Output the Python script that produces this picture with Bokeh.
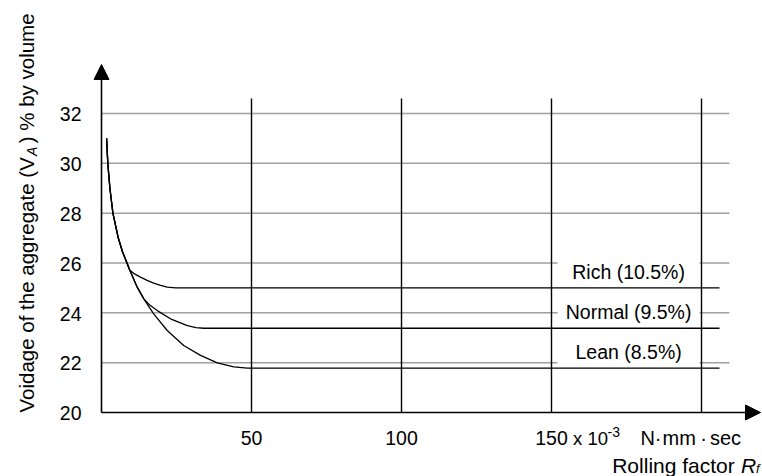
import math
from bokeh.plotting import figure
from bokeh.models import Arrow, NormalHead, Label
from bokeh.core.properties import value
from bokeh.embed import file_html
from bokeh.resources import INLINE

# ---------------- data ----------------
y_ticks = [20, 22, 24, 26, 28, 30, 32]
y_tick_labels = ["20", "22", "24", "26", "28", "30", "32"]
x_ticks = [50, 100, 150]
x_tick_labels = ["50", "100", "150"]
grid_y = [22, 24, 26, 28, 30, 32]
grid_x = [50, 100, 150, 200]
grid_x_top = 32.6
grid_y_end = 209.3

curve_names = ["Rich (10.5%)", "Normal (9.5%)", "Lean (8.5%)"]
curve_levels = [25.0, 23.38, 21.78]

common_x = [1.7, 2.1, 2.8, 3.8, 5.6, 7.0, 8.5, 9.4]
common_y = [31.0, 30.0, 29.0, 28.0, 27.0, 26.45, 26.0, 25.72]

rich_x = common_x + [11.0, 13.0, 15.2, 17.4, 19.7, 21.9, 24.7, 206.0]
rich_y = common_y + [25.56, 25.43, 25.30, 25.19, 25.10, 25.03, 25.0, 25.0]

normal_x = common_x + [11.9, 14.1, 16.2, 18.6, 23.0, 28.6, 31.5, 34.1, 206.0]
normal_y = common_y + [25.03, 24.56, 24.30, 24.09, 23.76, 23.49, 23.41, 23.38, 23.38]

lean_x = common_x + [11.9, 14.1, 17.4, 21.9, 27.4, 33.0, 38.6, 44.1, 48.6, 206.0]
lean_y = common_y + [25.03, 24.56, 23.96, 23.29, 22.69, 22.29, 21.99, 21.83, 21.78, 21.78]

label_x = 175.7

# ---------------- layout helpers ----------------
W, H = 762, 476
X0_PX, Y20_PX = 101.0, 412.0
PX_PER_X = 3.0
PX_PER_Y = 24.92
FONT = "Liberation Sans"


def dx(px):
    return (px - X0_PX) / PX_PER_X


def dy(py):
    return 20 + (Y20_PX - py) / PX_PER_Y


# Arial / Liberation Sans advance widths (per 1000 em)
AW = {" ": 278, "V": 667, "o": 556, "i": 222, "d": 556, "a": 556, "g": 556, "e": 556,
      "f": 278, "t": 278, "h": 556, "r": 333, "(": 333, ")": 333, "%": 889, "b": 556,
      "y": 500, "v": 500, "l": 222, "u": 556, "m": 833, "A": 667}


def tw(s, size):
    return sum(AW.get(c, 556) for c in s) * size / 1000.0


p = figure(width=W, height=H, x_range=(dx(0), dx(W)), y_range=(dy(H), dy(0)),
           output_backend="svg", toolbar_location=None, title=None,
           x_axis_location=None, y_axis_location=None, min_border=0)
p.outline_line_color = None
p.background_fill_color = "white"
p.border_fill_color = "white"
p.xgrid.visible = False
p.ygrid.visible = False

# horizontal grey grid lines
p.segment(x0=[0] * len(grid_y), y0=grid_y, x1=[grid_y_end] * len(grid_y), y1=grid_y,
          line_color="#a0a0a0", line_width=1.5)

# white boxes behind curve labels
LABEL_RISE = 15.9 / PX_PER_Y
box_y = [lv + LABEL_RISE for lv in curve_levels]
p.rect(x=[label_x] * len(curve_names), y=box_y, width=142, height=24,
       width_units="screen", height_units="screen", fill_color="white", line_color=None)

# vertical lines
p.segment(x0=grid_x, y0=[20] * len(grid_x), x1=grid_x, y1=[grid_x_top] * len(grid_x),
          line_color="black", line_width=1.4)

# curves
for cx, cy in [(rich_x, rich_y), (normal_x, normal_y), (lean_x, lean_y)]:
    p.line(cx, cy, line_color="black", line_width=1.3)

# curve labels (y gives the visual centre of the capitals)
p.text(x=[label_x] * len(curve_names), y=box_y,
       text=curve_names, text_font=value(FONT), text_font_size=value("19.5px"),
       text_align="center", text_baseline="alphabetic", text_color="black")

# axes arrows
p.add_layout(Arrow(end=NormalHead(size=15, fill_color="black", line_color="black"),
                   x_start=0, y_start=20, x_end=dx(760), y_end=20,
                   line_color="black", line_width=1.6))
p.add_layout(Arrow(end=NormalHead(size=15, fill_color="black", line_color="black"),
                   x_start=0, y_start=20, x_end=0, y_end=dy(64),
                   line_color="black", line_width=1.6))

# tick labels
p.text(x=[dx(81)] * len(y_ticks), y=[t - 0.7 / PX_PER_Y for t in y_ticks], text=y_tick_labels,
       text_font=value(FONT), text_font_size=value("19.5px"),
       text_align="right", text_baseline="alphabetic", text_color="black")
p.text(x=x_ticks, y=[dy(437.5)] * len(x_ticks), text=x_tick_labels,
       text_font=value(FONT), text_font_size=value("19.5px"),
       text_align="center", text_baseline="alphabetic", text_color="black")


def lab(px, py, text, size, align="left", style="normal", angle=0.0):
    p.add_layout(Label(x=dx(px), y=dy(py), text=text, text_font=FONT,
                       text_font_size=f"{size}px", text_align=align,
                       text_baseline="alphabetic", text_font_style=style,
                       text_color="black", angle=angle))


# unit after 150
lab(572.5, 437.5, "x 10", 18.5)
lab(607, 431, "-3", 14)
lab(640, 437.5, "N", 20)
lab(657.5, 437.5, "\u00b7", 20, align="center")
lab(662, 437.5, "mm", 20)
lab(703, 437.5, "\u00b7", 20, align="center")
lab(709.5, 437.5, "sec", 20)

# x title
lab(611.7, 464.5, "Rolling factor", 21)
lab(740.5, 464.5, "R", 21, style="italic")
lab(755.5, 467.5, "f", 13, style="italic")

# y title (rotated)
TS = 20.5
part1 = "Voidage of the aggregate (V"
part2 = ") % by volume"
start = 412.0
lab(26.0, start, part1, TS, angle=math.pi / 2)
a_start = start - tw(part1, TS)
lab(31.5, a_start, "A", 14, style="italic", angle=math.pi / 2)
lab(26.0, a_start - 9.3 - 3.5, part2, TS, angle=math.pi / 2)

open("out.html", "w").write(file_html(p, INLINE))
